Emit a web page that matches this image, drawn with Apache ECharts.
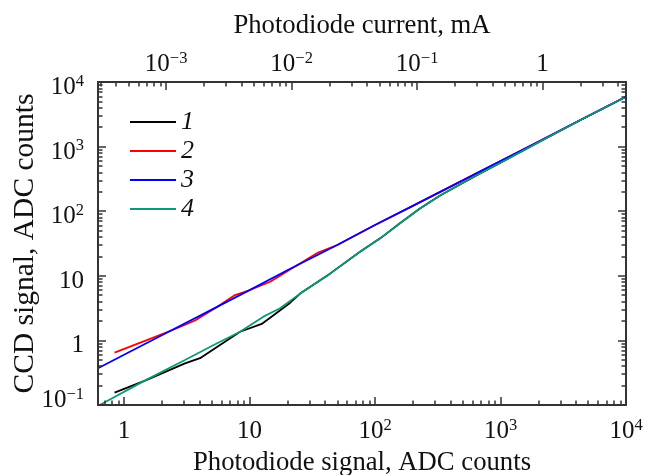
<!DOCTYPE html>
<html>
<head>
<meta charset="utf-8">
<script src="https://cdn.jsdelivr.net/npm/echarts@6/dist/echarts.min.js"></script>
<style>html,body{margin:0;padding:0;background:#fff}#c{width:655px;height:475px}</style>
</head>
<body>
<div id="c"></div>
<script>
// ---- data ----
const seriesNames = ['1', '2', '3', '4'];
const x1 = [0.84, 1.47, 3.06, 4.03, 8.4, 12.5, 21, 25.3, 43.8, 75.9, 110, 158, 228, 330, 475, 687, 991, 2065, 4300, 10000];
const y1 = [0.155, 0.238, 0.44, 0.53, 1.36, 1.8, 3.8, 5.3, 10.8, 23.6, 38, 65, 110, 175, 259, 383, 557, 1199, 2560, 5900];
const x2 = [0.84, 1.5, 2.55, 3.68, 5.5, 7.66, 10.1, 14.6, 22, 35.2, 50, 100, 200, 500, 1000, 2000, 5000, 10000];
const y2 = [0.645, 1.0, 1.5, 2.03, 3.3, 5.04, 6.03, 8.1, 13.2, 22.9, 30, 61, 121, 300, 600, 1190, 2970, 5900];
const x3 = [0.62, 1, 2, 5, 10, 20, 50, 100, 200, 500, 1000, 2000, 5000, 10000];
const y3 = [0.37, 0.6, 1.2, 3.0, 6.0, 12.2, 30, 61, 121, 300, 600, 1190, 2970, 5900];
const x4 = [0.64, 1.5, 3.06, 5, 8.4, 12.9, 17.5, 25.3, 43.8, 75.9, 110, 158, 228, 330, 475, 687, 991, 2065, 4300, 10000];
const y4 = [0.1, 0.245, 0.497, 0.82, 1.36, 2.33, 3.14, 5.3, 10.8, 23.6, 38, 65, 110, 175, 259, 383, 557, 1199, 2560, 5900];

const xMajor = [1, 10, 100, 1000, 10000];
const xTickLabels = ['{b|1}', '{b|10}', '{b|10}{s|2}', '{b|10}{s|3}', '{b|10}{s|4}'];
const yMajor = [0.1, 1, 10, 100, 1000, 10000];
const yTickLabels = ['{b|10}{s|\u22121}', '{b|1}', '{b|10}', '{b|10}{s|2}', '{b|10}{s|3}', '{b|10}{s|4}'];
const topMajor = [0.001, 0.01, 0.1, 1];
const topTickLabels = ['{b|10}{s|\u22123}', '{b|10}{s|\u22122}', '{b|10}{s|\u22121}', '{b|1}'];

const xMin = 0.62, xMax = 10000;
const yMin = 0.1, yMax = 10000;
const mAperCount = 4.62e-4; // photodiode current per ADC count
const topMin = xMin * mAperCount, topMax = xMax * mAperCount;

// ---- helpers ----
function minorTicks(lo, hi) {
  const out = [];
  for (let e = Math.floor(Math.log10(lo)) - 1; e <= Math.ceil(Math.log10(hi)); e++) {
    for (let m = 2; m <= 9; m++) {
      const v = m * Math.pow(10, e);
      if (v >= lo * 0.999 && v <= hi * 1.001) out.push(v);
    }
  }
  return out;
}
function labelFor(majors, labels) {
  return function (v) {
    const e = Math.round(Math.log10(v));
    for (let i = 0; i < majors.length; i++) {
      if (Math.round(Math.log10(majors[i])) === e) return labels[i];
    }
    return '';
  };
}
const FONT = 'Liberation Serif';
const FS_TICK = 25, FS_X = 26.7, FS_Y = 29.5, FS_LEG = 26;
const AX = '#333';
const TXT = '#111';
const rich = {
  b: { fontSize: FS_TICK, fontFamily: FONT, color: TXT, lineHeight: 24, padding: [8, 0, 0, 0], verticalAlign: 'bottom' },
  s: { fontSize: 16.5, fontFamily: FONT, color: TXT, lineHeight: 16, padding: [0, 0, 10, 0], verticalAlign: 'bottom' }
};

function mkAxis(opts) {
  const o = {
    type: 'log', logBase: 10, min: opts.min, max: opts.max,
    position: opts.position, splitLine: { show: false }, minorTick: { show: false },
    axisLine: { show: !!opts.line, onZero: false, lineStyle: { color: AX, width: 2 } },
    axisTick: { show: !!opts.ticks, inside: true, length: opts.len, customValues: opts.ticks || [], lineStyle: { color: AX, width: 1.5 } },
    axisLabel: { show: false },
    silent: true, z: 10
  };
  if (opts.labelValues) {
    o.axisLabel = { show: true, customValues: opts.labelValues, margin: opts.margin,
      padding: opts.labelPad || 0,
      fontSize: FS_TICK, fontFamily: FONT, color: TXT, rich: rich,
      formatter: labelFor(opts.majors, opts.labels) };
  }
  if (opts.name) {
    o.name = opts.name; o.nameLocation = 'middle'; o.nameGap = opts.nameGap;
    o.nameTextStyle = { fontSize: opts.nameSize, fontFamily: FONT, color: TXT };
  }
  return o;
}

const option = {
  animation: false,
  color: ['#000000', '#ff0000', '#0000ff', '#0b9a78'],
  grid: { left: 98, right: 29, top: 82, bottom: 70, containLabel: false, outerBoundsMode: 'none' },
  legend: {
    left: 130, top: 109, padding: 0, orient: 'vertical', icon: 'rect', itemWidth: 46, itemHeight: 2, itemGap: 3,
    selectedMode: false, data: seriesNames,
    textStyle: { fontSize: FS_LEG, fontFamily: FONT, fontStyle: 'italic', color: TXT }
  },
  xAxis: [
    mkAxis({ min: xMin, max: xMax, position: 'bottom', line: true, len: 8, ticks: xMajor, majors: xMajor, labels: xTickLabels, labelValues: xMajor, margin: 15, name: 'Photodiode signal, ADC counts', nameGap: 44, nameSize: FS_X }),
    mkAxis({ min: xMin, max: xMax, position: 'bottom', line: false, len: 4.5, ticks: minorTicks(xMin, xMax) }),
    mkAxis({ min: topMin, max: topMax, position: 'top', line: true, len: 8, ticks: topMajor, majors: topMajor, labels: topTickLabels, labelValues: topMajor, margin: 5, name: 'Photodiode current, mA', nameGap: 41, nameSize: FS_X }),
    mkAxis({ min: topMin, max: topMax, position: 'top', line: false, len: 4.5, ticks: minorTicks(topMin, topMax) })
  ],
  yAxis: [
    // major ticks + labels 1..10^4 (shifted slightly below tick, as in the reference)
    mkAxis({ min: yMin, max: yMax, position: 'left', line: true, len: 8, ticks: yMajor, majors: yMajor, labels: yTickLabels, labelValues: yMajor.slice(1), labelPad: [12, 0, 0, 0], margin: 14, name: 'CCD signal, ADC counts', nameGap: 58, nameSize: FS_Y }),
    // minor ticks + the lowest label (raised slightly, as in the reference)
    mkAxis({ min: yMin, max: yMax, position: 'left', line: false, len: 4.5, ticks: minorTicks(yMin, yMax), majors: yMajor, labels: yTickLabels, labelValues: yMajor.slice(0, 1), labelPad: [0, 0, 8, 0], margin: 14 }),
    mkAxis({ min: yMin, max: yMax, position: 'right', line: true, len: 8, ticks: yMajor }),
    mkAxis({ min: yMin, max: yMax, position: 'right', line: false, len: 4.5, ticks: minorTicks(yMin, yMax) })
  ],
  series: [
    [x1, y1], [x2, y2], [x3, y3], [x4, y4]
  ].map(function (p, i) {
    return {
      name: seriesNames[i], type: 'line', xAxisIndex: 0, yAxisIndex: 0,
      showSymbol: false, symbol: 'none', clip: true,
      lineStyle: { width: 1.8 },
      data: p[0].map(function (x, j) { return [x, p[1][j]]; })
    };
  })
};
const chart = echarts.init(document.getElementById('c'), null, { renderer: 'canvas' });
chart.setOption(option);
</script>
</body>
</html>
